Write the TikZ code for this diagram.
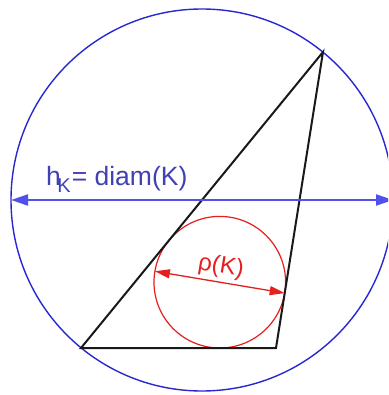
\documentclass[tikz,border=0pt]{standalone}
\usepackage{fontspec}
\setmainfont{Liberation Sans}
\usetikzlibrary{arrows.meta,calc}
\definecolor{cblue}{RGB}{40,40,210}
\definecolor{lblue}{RGB}{80,80,235}
\definecolor{tblue}{RGB}{65,65,180}
\definecolor{cred}{RGB}{230,30,30}
\definecolor{cblack}{RGB}{25,25,25}
\tikzset{
  bigcirc/.style={draw=cblue, line width=1.4pt},
  incirc/.style={draw=cred, line width=1.2pt},
  tri/.style={draw=cblack, line width=2pt, line join=miter},
  diamarrow/.style={draw=lblue, line width=2pt, {Triangle[length=17pt,width=11pt]}-{Triangle[length=17pt,width=11pt]}},
  rhoarrow/.style={draw=cred, line width=1.3pt, {Triangle[length=15pt,width=9pt]}-{Triangle[length=15pt,width=9pt]}},
  bluelabel/.style={text=tblue, font=\fontsize{26.5}{30}\selectfont, inner sep=0pt, anchor=base west},
  redlabel/.style={text=cred, font=\fontsize{24}{28}\selectfont, inner sep=0pt}
}
\begin{document}
\begin{tikzpicture}[x=1pt,y=-1pt]
\useasboundingbox (0,0) rectangle (388,395);
\clip (0,0) rectangle (388,395);
\fill[white] (0,0) rectangle (388,395);
% triangle vertices
\coordinate (A) at (81,348);
\coordinate (B) at (276,348);
\coordinate (C) at (323,52);
\coordinate (O) at (202,200);
\coordinate (I) at (219.8,282.2);
\coordinate (L) at (11,200);
\coordinate (R) at (393,200);
\coordinate (IL) at ($(I)+(-64.9,-10.9)$);
\coordinate (IR) at ($(I)+(64.9,10.9)$);
% circumscribing circle
\draw[bigcirc] (O) circle[radius=191];
% incircle
\draw[incirc] (I) circle[radius=65.8];
% triangle
\draw[tri] (A) -- (B) -- (C) -- cycle;
% diameter arrow
\draw[diamarrow] (L) -- (R);
% rho arrow
\draw[rhoarrow] (IL) -- (IR);
% labels
\node[bluelabel] (hk) at (46,185) {h\kern-3.5pt\raisebox{-7pt}{\fontsize{20}{20}\selectfont K}\kern1pt= diam(K)};
\node[redlabel, rotate=-9.5] (rho) at (221,267) {ρ(K)};
\end{tikzpicture}
\end{document}
